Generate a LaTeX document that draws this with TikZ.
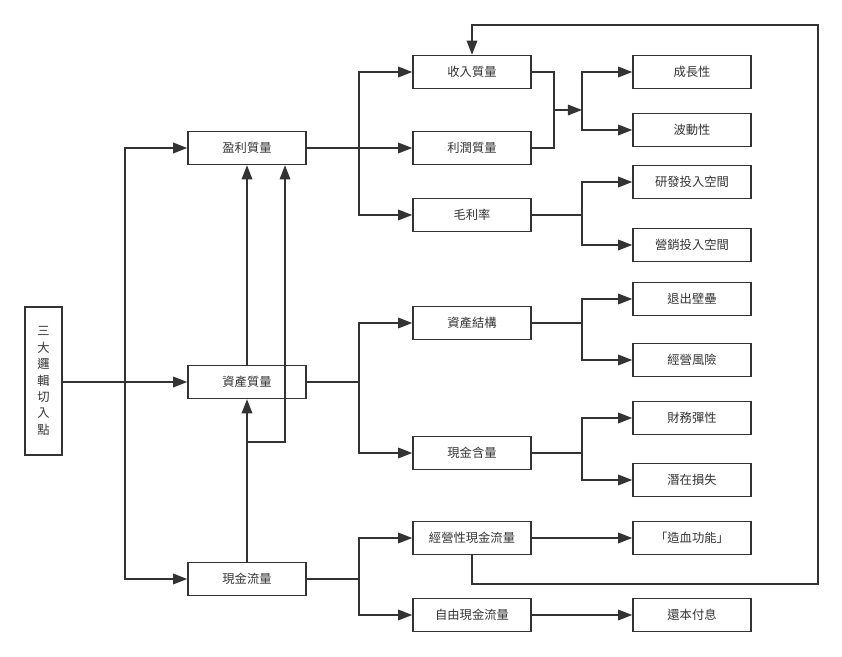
\documentclass[tikz,border=0pt]{standalone}
\usepackage{fontspec}
\setmainfont{Noto Sans CJK TC}
\usetikzlibrary{arrows.meta}
\definecolor{ink}{HTML}{333333}
\begin{document}
\begin{tikzpicture}[x=0.03cm,y=-0.03cm,line width=1.3pt,draw=ink,
  >={Triangle[length=12pt,width=9pt]},
  box/.style={draw=ink,line width=1.3pt,text=ink,minimum width=3.54cm,minimum height=0.99cm,inner sep=0pt,font=\fontsize{10.5}{12}\selectfont}]
\useasboundingbox (0,0) rectangle (842,657);
\node[box,minimum width=1.11cm,minimum height=4.44cm,align=center,font=\fontsize{10.5}{14}\selectfont] (logic) at (43.5,381) {三\\大\\邏\\輯\\切\\入\\點};
\node[box] (yingli) at (247,148) {盈利質量};
\node[box] (zichan) at (247,382) {資產質量};
\node[box] (xianjin) at (247,579) {現金流量};
\node[box] (shouru) at (472,72) {收入質量};
\node[box] (lirun) at (472,148) {利潤質量};
\node[box] (maoli) at (472,215) {毛利率};
\node[box] (jiegou) at (472,323) {資產結構};
\node[box] (hanliang) at (472,453) {現金含量};
\node[box] (jingying) at (472,538) {經營性現金流量};
\node[box] (ziyou) at (472,615) {自由現金流量};
\node[box] (chengzhang) at (692,72) {成長性};
\node[box] (bodong) at (692,130) {波動性};
\node[box] (yanfa) at (692,182) {研發投入空間};
\node[box] (yingxiao) at (692,245) {營銷投入空間};
\node[box] (tuichu) at (692,299) {退出壁壘};
\node[box] (fengxian) at (692,360) {經營風險};
\node[box] (tanxing) at (692,418) {財務彈性};
\node[box] (sunshi) at (692,480) {潛在損失};
\node[box] (zaoxue) at (692,538) {「造血功能」};
\node[box] (huanben) at (692,615) {還本付息};
\coordinate (bus1) at (125,382);
\coordinate (bus2) at (359,148);
\coordinate (bus3) at (359,382);
\coordinate (bus4) at (359,579);
\coordinate (up1) at (247,442);
\coordinate (up2) at (285,442);
\coordinate (mrg1) at (554,110);
\coordinate (mrg2) at (582,110);
\coordinate (bus5) at (582,215);
\coordinate (bus6) at (582,323);
\coordinate (bus7) at (582,453);
\coordinate (back1) at (818,584);
\coordinate (back2) at (818,25);
\draw (logic.east |- bus1) -- (bus1);
\draw[->] (bus1) |- (yingli);
\draw[->] (bus1) -- (zichan);
\draw[->] (bus1) |- (xianjin);
\draw[->] (zichan) -- (yingli);
\draw[->] (xianjin) -- (zichan);
\draw[->] (up1) -- (up2) -- (up2 |- yingli.south);
\draw (yingli) -- (bus2);
\draw[->] (bus2) |- (shouru);
\draw[->] (bus2) -- (lirun);
\draw[->] (bus2) |- (maoli);
\draw (zichan) -- (bus3);
\draw[->] (bus3) |- (jiegou);
\draw[->] (bus3) |- (hanliang);
\draw (xianjin) -- (bus4);
\draw[->] (bus4) |- (jingying);
\draw[->] (bus4) |- (ziyou);
\draw (shouru) -| (mrg1);
\draw (lirun) -| (mrg1);
\draw[->] (mrg1) -- (mrg2);
\draw[->] (mrg2) |- (chengzhang);
\draw[->] (mrg2) |- (bodong);
\draw (maoli) -- (bus5);
\draw[->] (bus5) |- (yanfa);
\draw[->] (bus5) |- (yingxiao);
\draw (jiegou) -- (bus6);
\draw[->] (bus6) |- (tuichu);
\draw[->] (bus6) |- (fengxian);
\draw (hanliang) -- (bus7);
\draw[->] (bus7) |- (tanxing);
\draw[->] (bus7) |- (sunshi);
\draw[->] (jingying) -- (zaoxue);
\draw[->] (ziyou) -- (huanben);
\draw[->] (jingying.south) |- (back1) -- (back2) -| (shouru.north);
\end{tikzpicture}
\end{document}
